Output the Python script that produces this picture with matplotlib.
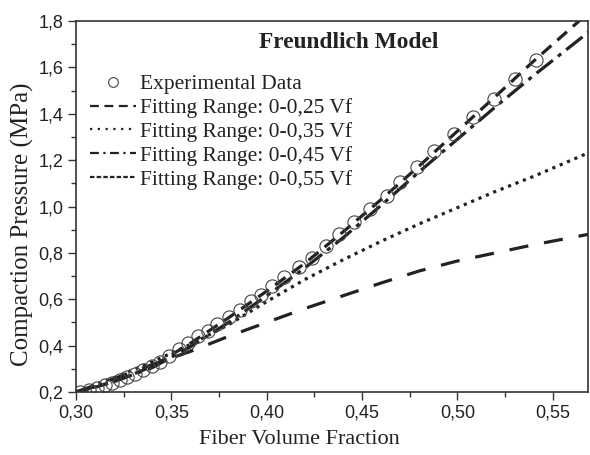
import matplotlib
matplotlib.use('Agg')
import matplotlib.pyplot as plt
import matplotlib.ticker as ticker
from matplotlib.lines import Line2D

# data
vf_exp = [0.302, 0.307, 0.311, 0.315, 0.319, 0.323, 0.327, 0.331, 0.335, 0.340,
          0.344, 0.349, 0.354, 0.359, 0.364, 0.369, 0.374, 0.380, 0.386, 0.392,
          0.397, 0.403, 0.409, 0.417, 0.424, 0.431, 0.438, 0.446, 0.454, 0.463,
          0.470, 0.479, 0.488, 0.498, 0.508, 0.519, 0.530, 0.541]
p_exp = [0.200, 0.209, 0.216, 0.228, 0.240, 0.250, 0.264, 0.278, 0.293, 0.313,
         0.330, 0.355, 0.385, 0.412, 0.440, 0.465, 0.494, 0.525, 0.555, 0.592,
         0.620, 0.655, 0.695, 0.738, 0.780, 0.828, 0.880, 0.932, 0.988, 1.045,
         1.105, 1.170, 1.240, 1.313, 1.386, 1.465, 1.548, 1.634]

vf_fit = [0.30, 0.32, 0.34, 0.36, 0.38, 0.40, 0.42, 0.44, 0.46, 0.48, 0.50, 0.52, 0.54, 0.57]
p_fit25 = [0.200, 0.258, 0.318, 0.375, 0.440, 0.500, 0.560, 0.615, 0.670, 0.722, 0.765, 0.800, 0.835, 0.882]
p_fit35 = [0.200, 0.262, 0.330, 0.405, 0.490, 0.590, 0.685, 0.770, 0.850, 0.925, 0.995, 1.065, 1.130, 1.236]
p_fit45 = [0.200, 0.245, 0.305, 0.395, 0.500, 0.615, 0.735, 0.865, 1.005, 1.150, 1.290, 1.430, 1.565, 1.760]
p_fit55 = [0.195, 0.245, 0.310, 0.410, 0.520, 0.635, 0.755, 0.890, 1.030, 1.175, 1.325, 1.475, 1.627, 1.845]

labels = ['Experimental Data', 'Fitting Range: 0-0,25 Vf', 'Fitting Range: 0-0,35 Vf',
          'Fitting Range: 0-0,45 Vf', 'Fitting Range: 0-0,55 Vf']

ink = '#222222'
serif = ['Liberation Serif', 'DejaVu Serif']
sans = ['Liberation Sans', 'DejaVu Sans']

fig = plt.figure(figsize=(5.9, 4.55), dpi=100)
ax = fig.add_axes([0.1288, 0.1385, 0.8678, 0.8153])

lw = 2.3
ax.plot(vf_fit, p_fit25, color=ink, lw=lw, linestyle=(0, (6, 5)))
ax.plot(vf_fit, p_fit35, color=ink, lw=lw, linestyle=(0, (1, 1.5)))
ax.plot(vf_fit, p_fit45, color=ink, lw=lw, linestyle=(0, (6.5, 2, 1.3, 2)))
ax.plot(vf_fit, p_fit55, color=ink, lw=lw, linestyle=(0, (4, 2.5)))
ax.plot(vf_exp, p_exp, 'o', ms=9.5, mfc='none', mec='#444444', mew=0.8)

ax.set_xlim(0.30, 0.5685)
ax.set_ylim(0.2, 1.8)
ax.xaxis.set_major_locator(ticker.MultipleLocator(0.05))
ax.xaxis.set_minor_locator(ticker.MultipleLocator(0.025))
ax.yaxis.set_major_locator(ticker.MultipleLocator(0.2))
ax.yaxis.set_minor_locator(ticker.MultipleLocator(0.1))
ax.xaxis.set_major_formatter(ticker.FuncFormatter(lambda v, p: '{:.2f}'.format(v).replace('.', ',')))
ax.yaxis.set_major_formatter(ticker.FuncFormatter(lambda v, p: '{:.1f}'.format(v).replace('.', ',')))
ax.tick_params(which='major', length=6, width=1, color='#333333', labelsize=13, labelcolor=ink, pad=3)
ax.tick_params(which='minor', length=3.5, width=1, color='#333333')
for lab in ax.get_xticklabels() + ax.get_yticklabels():
    lab.set_family(sans)
for s in ax.spines.values():
    s.set_linewidth(1.2)
    s.set_color('#333333')

ax.set_xlabel('Fiber Volume Fraction', family=serif, fontsize=16, color=ink)
ax.xaxis.set_label_coords(0.436, -0.102)
ax.set_ylabel('Compaction Pressure (MPa)', family=serif, fontsize=18, color=ink)
ax.yaxis.set_label_coords(-0.082, 0.453)

ax.text(0.533, 0.943, 'Freundlich Model', transform=ax.transAxes, ha='center', va='center',
        family=serif, fontsize=16.8, fontweight='bold', color=ink)

handles = [
    Line2D([], [], marker='o', ls='none', ms=7, mfc='none', mec='#444444', mew=0.8),
    Line2D([], [], color=ink, lw=1.6, linestyle=(0, (4, 2.5))),
    Line2D([], [], color=ink, lw=1.6, linestyle=(0, (1, 2.5))),
    Line2D([], [], color=ink, lw=1.6, linestyle=(0, (4, 2, 1, 2))),
    Line2D([], [], color=ink, lw=1.6, linestyle=(0, (2, 1))),
]
leg = ax.legend(handles, labels, loc='upper left', bbox_to_anchor=(0.027, 0.857),
                frameon=False, prop={'family': serif, 'size': 15.5}, handlelength=2.14,
                handletextpad=0.19, labelspacing=0.18, borderpad=0, borderaxespad=0)
for t in leg.get_texts():
    t.set_color(ink)

fig.savefig('out.png', dpi=100)
